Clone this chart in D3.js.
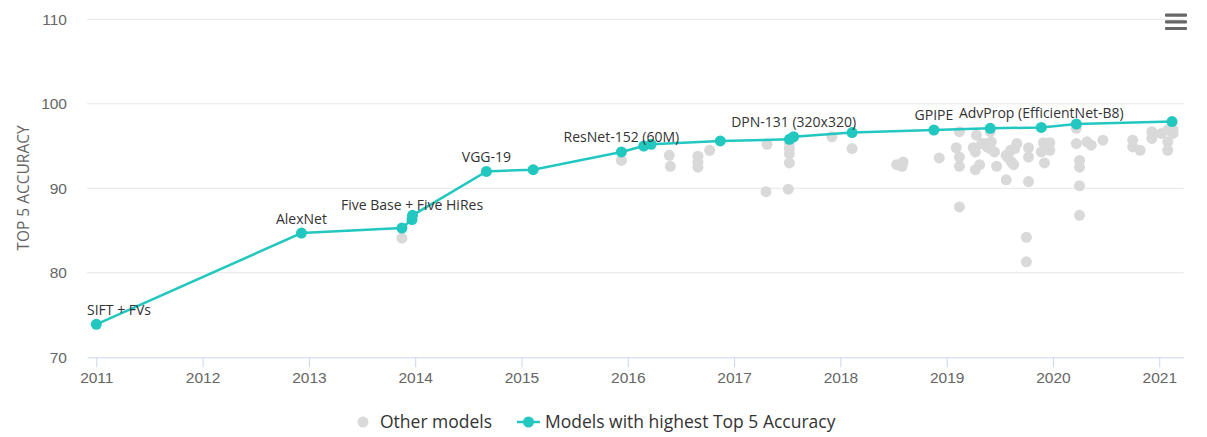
<!DOCTYPE html>
<html>
<head>
<meta charset="utf-8">
<script src="https://cdn.jsdelivr.net/npm/d3@7"></script>
<style>
  html, body { margin: 0; padding: 0; background: #fff; }
  svg { display: block; font-family: "Open Sans", sans-serif; }
</style>
</head>
<body>
<div id="chart"></div>
<script>
// best models (teal line), decimal years
const bestDates = [2011.00, 2012.93, 2013.875, 2013.97, 2013.975, 2014.67, 2015.11, 2015.94, 2016.15, 2016.22,
                   2016.87, 2017.52, 2017.56, 2018.11, 2018.88, 2019.41, 2019.89, 2020.22, 2021.12];
const bestAcc   = [73.9, 84.7, 85.3, 86.3, 86.8, 92.0, 92.2, 94.3, 95.0, 95.2,
                   95.6, 95.8, 96.1, 96.6, 96.9, 97.1, 97.2, 97.6, 97.9];
const bestLabels = ["SIFT + FVs", "AlexNet", "", "Five Base + Five HiRes", "", "VGG-19", "", "ResNet-152 (60M)", "", "",
                    "", "", "DPN-131 (320x320)", "", "GPIPE", "", "AdvProp (EfficientNet-B8)", "", ""];

// other models (grey dots)
const otherDates = [2013.875, 2015.94, 2016.39, 2016.40, 2016.66, 2016.66, 2016.66, 2016.77, 2017.31, 2017.30,
                    2017.51, 2017.52, 2017.52, 2017.52, 2017.52, 2017.92, 2018.11, 2018.53, 2018.59, 2018.58,
                    2018.93, 2019.12, 2019.09, 2019.12, 2019.12, 2019.12, 2019.28, 2019.25, 2019.27, 2019.31,
                    2019.27, 2019.33, 2019.36, 2019.38, 2019.41, 2019.42, 2019.41, 2019.45, 2019.47, 2019.56,
                    2019.58, 2019.60, 2019.61, 2019.64, 2019.66, 2019.63, 2019.56, 2019.77, 2019.77, 2019.77,
                    2019.75, 2019.75, 2019.91, 2019.97, 2019.89, 2019.97, 2019.92, 2020.22, 2020.22, 2020.32,
                    2020.36, 2020.47, 2020.25, 2020.25, 2020.25, 2020.25, 2020.75, 2020.75, 2020.82, 2020.93,
                    2020.93, 2021.02, 2021.08, 2021.08, 2021.08, 2021.13, 2021.13];
const otherAcc   = [84.1, 93.3, 93.9, 92.6, 93.8, 93.1, 92.5, 94.5, 95.2, 89.6,
                    89.9, 93.0, 94.1, 94.7, 95.4, 96.1, 94.7, 92.8, 93.1, 92.6,
                    93.6, 96.7, 94.8, 93.7, 92.6, 87.8, 96.3, 94.8, 94.3, 92.8,
                    92.2, 95.3, 95.3, 94.9, 94.7, 95.5, 96.7, 94.3, 92.6, 93.9,
                    93.6, 94.5, 93.1, 94.7, 95.3, 92.8, 91.0, 94.8, 93.7, 90.8,
                    84.2, 81.3, 95.4, 95.4, 94.3, 94.5, 93.0, 97.1, 95.3, 95.5,
                    95.1, 95.7, 93.3, 92.5, 90.3, 86.8, 95.7, 94.9, 94.5, 96.7,
                    95.9, 96.5, 96.9, 95.5, 94.5, 96.5, 96.9];

const yTicks = [70, 80, 90, 100, 110];
const xTicks = [2011, 2012, 2013, 2014, 2015, 2016, 2017, 2018, 2019, 2020, 2021];

const width = 1207, height = 437;
const plot = { left: 87, right: 1183.5, top: 19.3, bottom: 357.3 };
const teal = "#22c7bf", grey = "#d9d9d9";

const svg = d3.select("#chart").append("svg")
    .attr("width", width)
    .attr("height", height);

let x = d3.scaleLinear()
    .domain([2010.9125, 2021.228])
    .range([plot.left, plot.right]);
let y = d3.scaleLinear()
    .domain([70, 110])
    .range([plot.bottom, plot.top]);

// gridlines
svg.append("g")
    .selectAll("line")
    .data(yTicks.slice(1))
    .enter()
    .append("line")
    .attr("x1", plot.left)
    .attr("x2", plot.right)
    .attr("y1", d => y(d))
    .attr("y2", d => y(d))
    .attr("stroke", "#e6e6e6")
    .attr("stroke-width", 1);

// y axis labels
let yAxis = svg.append("g")
    .attr("transform", `translate(${plot.left},0)`)
    .call(d3.axisLeft(y).tickValues(yTicks).tickSize(0).tickPadding(20));
yAxis.select(".domain").remove();
yAxis.selectAll("text")
    .style("font-size", "15.5px")
    .attr("fill", "#666");

// x axis
let xAxis = svg.append("g")
    .attr("transform", `translate(0,${plot.bottom})`)
    .call(d3.axisBottom(x).tickValues(xTicks).tickFormat(d3.format("d")).tickSize(10).tickPadding(5).tickSizeOuter(0));
xAxis.select(".domain").attr("stroke", "#ccd6eb");
xAxis.selectAll(".tick line").attr("stroke", "#ccd6eb");
xAxis.selectAll("text")
    .style("font-size", "15.5px")
    .attr("fill", "#666");

// y axis title
svg.append("text")
    .attr("transform", `translate(29,188) rotate(-90)`)
    .style("text-anchor", "middle")
    .style("font-size", "15.5px")
    .attr("fill", "#666")
    .text("TOP 5 ACCURACY");

// other models
const others = otherDates.map((d, i) => ({ date: d, acc: otherAcc[i] }));
svg.append("g")
    .selectAll("circle")
    .data(others)
    .enter()
    .append("circle")
    .attr("cx", d => x(d.date))
    .attr("cy", d => y(d.acc))
    .attr("r", 5.5)
    .attr("fill", grey);

// best models
const best = bestDates.map((d, i) => ({ date: d, acc: bestAcc[i], label: bestLabels[i] }));
let line = d3.line()
    .x(d => x(d.date))
    .y(d => y(d.acc));
svg.append("path")
    .datum(best)
    .attr("d", line)
    .attr("fill", "none")
    .attr("stroke", teal)
    .attr("stroke-width", 2.5);
svg.append("g")
    .selectAll("circle")
    .data(best)
    .enter()
    .append("circle")
    .attr("cx", d => x(d.date))
    .attr("cy", d => y(d.acc))
    .attr("r", 5.5)
    .attr("fill", teal);

// data labels, kept inside the plot area
let labels = svg.append("g")
    .selectAll("text")
    .data(best.filter(d => d.label !== ""))
    .enter()
    .append("text")
    .attr("y", d => y(d.acc) - 9.5)
    .style("font-size", "14px")
    .attr("fill", "#333")
    .text(d => d.label);
labels.each(function(d) {
    let w = this.getComputedTextLength();
    let left = Math.max(plot.left, x(d.date) - w / 2);
    d3.select(this).attr("x", left);
});

// legend
let legend = svg.append("g").attr("transform", "translate(0,422)");
legend.append("circle")
    .attr("cx", 363).attr("cy", 0).attr("r", 5.5)
    .attr("fill", grey);
legend.append("text")
    .attr("x", 380).attr("y", 6)
    .style("font-size", "17.5px")
    .attr("fill", "#333")
    .text("Other models");
legend.append("line")
    .attr("x1", 517).attr("x2", 540).attr("y1", 0).attr("y2", 0)
    .attr("stroke", teal).attr("stroke-width", 2.5);
legend.append("circle")
    .attr("cx", 528.5).attr("cy", 0).attr("r", 5.5)
    .attr("fill", teal);
legend.append("text")
    .attr("x", 545).attr("y", 6)
    .style("font-size", "17.5px")
    .attr("fill", "#333")
    .text("Models with highest Top 5 Accuracy");

// menu icon
svg.append("g")
    .selectAll("rect")
    .data([0, 1, 2])
    .enter()
    .append("rect")
    .attr("x", 1165)
    .attr("y", d => 13.5 + d * 6.7)
    .attr("width", 22)
    .attr("height", 3.2)
    .attr("rx", 1)
    .attr("fill", "#666");
</script>
</body>
</html>
